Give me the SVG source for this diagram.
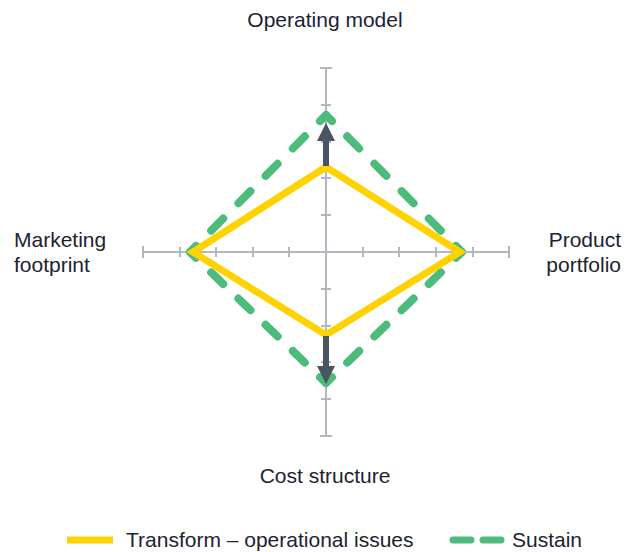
<svg xmlns="http://www.w3.org/2000/svg" width="635" height="552" viewBox="0 0 635 552">
<style>
.lbl{font-family:"Liberation Sans",Arial,sans-serif;font-size:21px;fill:#1b2333}
.axis{stroke:#b3b8be;stroke-width:2;fill:none}
.yel{stroke:#ffd200;stroke-width:7;fill:none;stroke-linejoin:miter}
.grn{stroke:#4dbb7b;stroke-width:8;fill:none;stroke-linecap:round;stroke-dasharray:17 21.4;stroke-dashoffset:8.5}
.arr{stroke:#4b5461;stroke-width:6;fill:none}
</style>
<defs>
<marker id="ah" markerUnits="userSpaceOnUse" markerWidth="18" markerHeight="18" refX="0" refY="9" orient="auto" viewBox="0 0 18 18">
<path d="M0,0 L18,9 L0,18 Z" fill="#4b5461"/>
</marker>
</defs>
<rect width="635" height="552" fill="#ffffff"/>
<g id="axes">
<line class="axis" x1="326" y1="68" x2="326" y2="436"/>
<line class="axis" x1="143" y1="252" x2="509" y2="252"/>
<path class="axis" d="M320,68H332M321,105H331M321,142H331M321,178H331M321,215H331M321,289H331M321,326H331M321,362H331M321,399H331M320,436H332"/>
<path class="axis" d="M143,246V258M180,247V257M216,247V257M253,247V257M289,247V257M363,247V257M399,247V257M436,247V257M473,247V257M509,246V258"/>
</g>
<g id="connectors">
<line class="grn" x1="190" y1="252" x2="326" y2="115" pathLength="192"/>
<line class="grn" x1="326" y1="115" x2="462" y2="252" pathLength="192"/>
<line class="grn" x1="462" y1="252" x2="326" y2="383" pathLength="192"/>
<line class="grn" x1="326" y1="383" x2="190" y2="252" pathLength="192"/>
<polygon class="yel" points="326,167 460,252 326,335 193,252"/>
<line class="arr" x1="326" y1="166" x2="326" y2="141" marker-end="url(#ah)"/>
<line class="arr" x1="326" y1="336" x2="326" y2="366" marker-end="url(#ah)"/>
</g>
<g id="top"><text class="lbl" x="325" y="27" text-anchor="middle">Operating model</text></g>
<g id="left"><text class="lbl" x="14" y="247">Marketing</text><text class="lbl" x="14" y="272">footprint</text></g>
<g id="right"><text class="lbl" x="621" y="247" text-anchor="end">Product</text><text class="lbl" x="621" y="272" text-anchor="end">portfolio</text></g>
<g id="bottom"><text class="lbl" x="325" y="483" text-anchor="middle">Cost structure</text></g>
<g id="legend">
<line x1="67" y1="540" x2="113" y2="540" stroke="#ffd200" stroke-width="7"/>
<text class="lbl" x="126" y="547">Transform – operational issues</text>
<path d="M453,540H471M483,540H501" stroke="#4dbb7b" stroke-width="7" stroke-linecap="round" fill="none"/>
<text class="lbl" x="512" y="547">Sustain</text>
</g>
</svg>
